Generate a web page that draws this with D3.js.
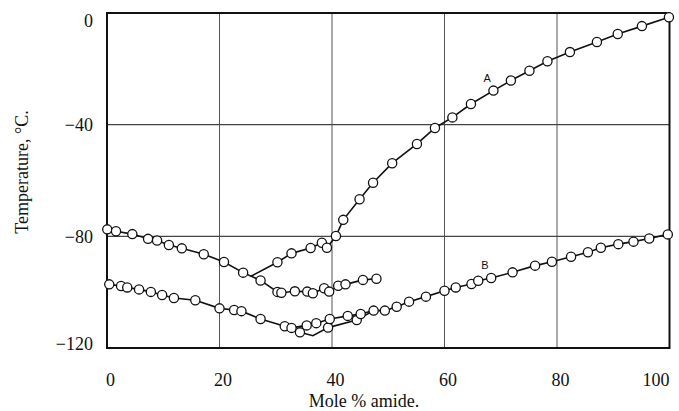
<!DOCTYPE html>
<html>
<head>
<meta charset="utf-8">
<script src="https://cdn.jsdelivr.net/npm/d3@7/dist/d3.min.js"></script>
<style>
    body { margin: 0; background: #fff; }
    svg { display: block; }
</style>
</head>
<body>
<div id="chart"></div>
<script>
// Curva A (ramo ascendente a partir do eutetico)
var a_start         =   [25.5, -94.4];
var a_x             =   [30.3, 32.8, 36.2, 38.2, 39.1, 40.7, 42.0, 44.9, 47.3, 50.7, 55.1, 58.3, 61.4, 64.7, 68.7, 71.8, 75.1, 78.3, 82.3, 87.1, 90.8, 95.1, 99.9];
var a_y             =   [-89.3, -86.1, -84.2, -82.3, -84.1, -79.9, -74.1, -66.7, -60.8, -53.8, -46.9, -41.2, -37.4, -32.6, -27.8, -24.2, -20.7, -17.3, -14.0, -10.4, -7.5, -4.7, -1.5];

// Curva superior esquerda (desce de -77 e segue ate 48 %)
var c_x             =   [0.05, 1.6, 4.5, 7.3, 8.9, 11.0, 13.3, 17.2, 20.8, 24.2, 27.3, 30.3, 31.0, 33.4, 35.6, 36.6, 38.6, 39.5, 41.1, 42.4, 45.5, 47.9];
var c_y             =   [-77.5, -78.2, -79.2, -80.9, -81.5, -83.1, -84.3, -86.4, -89.2, -93.0, -95.8, -99.9, -100.2, -99.7, -99.8, -100.4, -98.6, -99.8, -97.7, -97.2, -95.6, -95.2];

// Curva B
var b_x             =   [0.4, 2.5, 3.6, 5.7, 7.8, 9.8, 11.9, 15.7, 20.0, 22.6, 23.9, 27.3, 31.6, 32.8, 34.3, 39.3, 44.4, 47.4, 49.4, 51.5, 53.7, 56.7, 60.0, 62.0, 64.8, 66.0, 68.3, 72.1, 76.1, 79.1, 82.5, 85.5, 87.8, 90.9, 93.6, 96.4, 99.7];
var b_y             =   [-97.2, -97.8, -98.3, -99.0, -99.9, -101.0, -102.1, -102.9, -105.8, -106.4, -106.8, -109.6, -112.2, -112.8, -114.4, -112.7, -110.0, -106.6, -106.6, -105.2, -103.4, -101.6, -99.5, -98.3, -97.1, -95.9, -94.9, -92.9, -90.5, -89.1, -87.3, -85.7, -84.1, -82.8, -81.9, -80.8, -79.3];
var b_kink          =   [36.6, -115.6];

// Ramo superior de B (entre 33 e 47 %)
var d_start         =   [32.8, -112.8];
var d_x             =   [35.5, 37.2, 39.6, 42.8, 45.1];
var d_y             =   [-111.9, -111.1, -109.6, -108.5, -107.8];
var d_end           =   [47.4, -106.6];

var x_ticks         =   [0, 20, 40, 60, 80, 100];
var y_ticks         =   [0, -40, -80, -120];
var x_grid          =   [20, 40, 60, 80];
var y_grid          =   [-40, -80];

// Criar SVG
var chart_width     =   679;
var chart_height    =   411;
var svg             =   d3.select( '#chart' )
    .append( 'svg' )
    .attr( 'width', chart_width )
    .attr( 'height', chart_height );

// Criar escalas
var x_scale = d3.scaleLinear()
    .domain([0, 100])
    .range([107, 669.5]);

var y_scale = d3.scaleLinear()
    .domain([-120, 0])
    .range([348, 13]);

function pts( xs, ys ){
    return xs.map(function( d, i ){ return [d, ys[i]]; });
}

// Grade
svg.selectAll( '.vgrid' )
    .data( x_grid )
    .enter()
    .append( 'line' )
    .attr( 'x1', function( d ){ return x_scale(d); })
    .attr( 'x2', function( d ){ return x_scale(d); })
    .attr( 'y1', y_scale(0) )
    .attr( 'y2', y_scale(-120) )
    .attr( 'stroke', '#555' )
    .attr( 'stroke-width', 1 );

svg.selectAll( '.hgrid' )
    .data( y_grid )
    .enter()
    .append( 'line' )
    .attr( 'x1', x_scale(0) )
    .attr( 'x2', x_scale(100) )
    .attr( 'y1', function( d ){ return y_scale(d); })
    .attr( 'y2', function( d ){ return y_scale(d); })
    .attr( 'stroke', '#444' )
    .attr( 'stroke-width', 1.2 );

// Moldura
svg.append( 'rect' )
    .attr( 'x', x_scale(0) )
    .attr( 'y', y_scale(0) )
    .attr( 'width', x_scale(100) - x_scale(0) )
    .attr( 'height', y_scale(-120) - y_scale(0) )
    .attr( 'fill', 'none' )
    .attr( 'stroke', '#111' )
    .attr( 'stroke-width', 2 );

// Eixos (so rotulos)
var x_axis = d3.axisBottom( x_scale )
    .tickValues( x_ticks )
    .tickSize( 0 )
    .tickPadding( 0 );

svg.append( 'g' )
    .attr( 'transform', 'translate(0,' + 386 + ')' )
    .call( x_axis )
    .call(function( g ){ g.select( '.domain' ).remove(); })
    .selectAll( 'text' )
    .attr( 'dy', 0 )
    .attr( 'dx', function( d ){ return d == 100 ? -14 : 3; })
    .attr( 'font-family', '"Liberation Serif", "DejaVu Serif", serif' )
    .attr( 'font-size', 18 )
    .attr( 'fill', '#111' );

var y_axis = d3.axisLeft( y_scale )
    .tickValues( y_ticks )
    .tickSize( 0 )
    .tickPadding( 0 )
    .tickFormat(function( d ){ return d == 0 ? '0' : '\u2212' + Math.abs(d); });

svg.append( 'g' )
    .attr( 'transform', 'translate(' + 93 + ',0)' )
    .call( y_axis )
    .call(function( g ){ g.select( '.domain' ).remove(); })
    .selectAll( 'text' )
    .attr( 'dy', function( d ){ return d == 0 ? '0.75em' : d == -120 ? '0.1em' : '0.32em'; })
    .attr( 'font-family', '"Liberation Serif", "DejaVu Serif", serif' )
    .attr( 'font-size', 18 )
    .attr( 'fill', '#111' );

// Titulos
svg.append( 'text' )
    .text( 'Mole % amide.' )
    .attr( 'x', 364 )
    .attr( 'y', 407 )
    .attr( 'text-anchor', 'middle' )
    .attr( 'font-family', '"Liberation Serif", "DejaVu Serif", serif' )
    .attr( 'font-size', 18 )
    .attr( 'fill', '#111' );

svg.append( 'text' )
    .text( 'Temperature, \u00B0C.' )
    .attr( 'transform', 'translate(28,172) rotate(-90)' )
    .attr( 'text-anchor', 'middle' )
    .attr( 'font-family', '"Liberation Serif", "DejaVu Serif", serif' )
    .attr( 'font-size', 18 )
    .attr( 'fill', '#111' );

// Linhas
var line = d3.line()
    .x(function( d ){ return x_scale(d[0]); })
    .y(function( d ){ return y_scale(d[1]); });

var b_line = pts( b_x, b_y ).concat( [b_kink] )
    .sort(function( p, q ){ return p[0] - q[0]; });

var paths = [
    [a_start].concat( pts( a_x, a_y ) ),
    pts( c_x, c_y ),
    b_line,
    [d_start].concat( pts( d_x, d_y ) ).concat( [d_end] )
];

svg.selectAll( '.curve' )
    .data( paths )
    .enter()
    .append( 'path' )
    .attr( 'd', line )
    .attr( 'fill', 'none' )
    .attr( 'stroke', '#111' )
    .attr( 'stroke-width', 1.6 );

// Pontos
var points = pts( a_x, a_y )
    .concat( pts( c_x, c_y ) )
    .concat( pts( b_x, b_y ) )
    .concat( pts( d_x, d_y ) );

svg.selectAll( 'circle' )
    .data( points )
    .enter()
    .append( 'circle' )
    .attr( 'cx', function( d ){ return x_scale(d[0]); })
    .attr( 'cy', function( d ){ return y_scale(d[1]); })
    .attr( 'r', 4.6 )
    .attr( 'fill', '#fff' )
    .attr( 'stroke', '#111' )
    .attr( 'stroke-width', 1.3 );

// Rotulos das curvas
svg.append( 'text' )
    .text( 'A' )
    .attr( 'x', x_scale(67.6) )
    .attr( 'y', y_scale(-23.3) )
    .attr( 'text-anchor', 'middle' )
    .attr( 'dy', '0.35em' )
    .attr( 'font-family', '"Liberation Sans", Arial, sans-serif' )
    .attr( 'font-size', 11 )
    .attr( 'fill', '#111' );

svg.append( 'text' )
    .text( 'B' )
    .attr( 'x', x_scale(67.2) )
    .attr( 'y', y_scale(-90.3) )
    .attr( 'text-anchor', 'middle' )
    .attr( 'dy', '0.35em' )
    .attr( 'font-family', '"Liberation Sans", Arial, sans-serif' )
    .attr( 'font-size', 11 )
    .attr( 'fill', '#111' );
</script>
</body>
</html>
